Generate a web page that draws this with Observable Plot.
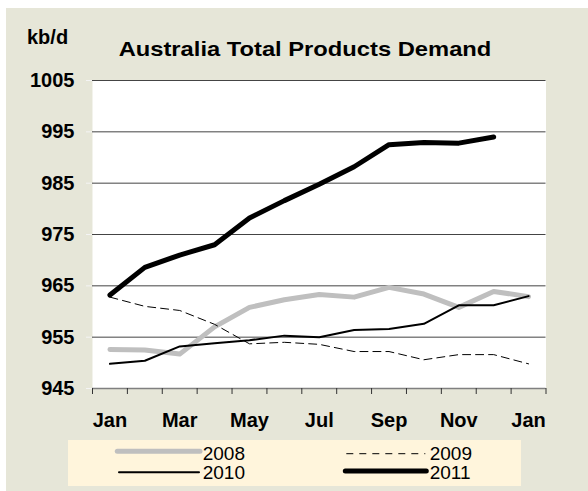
<!DOCTYPE html>
<html><head><meta charset="utf-8">
<script src="https://cdn.jsdelivr.net/npm/d3@7"></script>
<script src="https://cdn.jsdelivr.net/npm/@observablehq/plot@0.6"></script>
<style>
body{margin:0;background:#fff;font-family:"Liberation Sans",Arial,sans-serif;}
#wrap{position:relative;width:588px;height:491px;overflow:hidden;background:#fff;}
#bg{position:absolute;left:6px;top:8px;right:0;bottom:0;background:#E6E6D8;}
#chart{position:absolute;left:0;top:0;}
.t{position:absolute;font-weight:bold;color:#000;white-space:nowrap;line-height:20px;font-size:20px;}
#legend{position:absolute;left:68px;top:440px;width:453px;height:46px;background:#FFF5DC;}
</style></head><body>
<div id="wrap">
  <div id="bg"></div>
  <div id="chart"></div>
  <div class="t" style="left:27px;top:27px;">kb/d</div>
  <div class="t" id="title" style="left:304.6px;top:38px;font-size:21px;line-height:21px;transform:translateX(-50%) scaleX(1.13);transform-origin:50% 50%;">Australia Total Products Demand</div>
  <div id="legend"></div>
</div>
<script>
const months = ["Jan","Feb","Mar","Apr","May","Jun","Jul","Aug","Sep","Oct","Nov","Dec","Jan"];
const xTickLabels = ["Jan","Mar","May","Jul","Sep","Nov","Jan"];
const yTicks = [945,955,965,975,985,995,1005];
const years = ["2008","2009","2010","2011"];
const d2008 = [952.6,952.5,951.7,957.0,960.8,962.3,963.3,962.8,964.7,963.4,960.8,963.9,962.9];
const d2009 = [962.8,961.0,960.2,957.5,953.7,954.0,953.6,952.2,952.2,950.6,951.6,951.6,949.8];
const d2010 = [949.8,950.4,953.2,953.8,954.4,955.3,955.0,956.4,956.6,957.6,961.2,961.2,963.0];
const d2011 = [963.2,968.6,971.0,973.0,978.2,981.6,984.8,988.2,992.5,992.9,992.8,994.0];

const rows = (arr) => arr.map((v, i) => ({i, month: months[i], v}));
const styles = {
  "2008": {stroke:"#BFBFBF", strokeWidth:5, dash:null},
  "2009": {stroke:"#000", strokeWidth:1, dash:"8,5"},
  "2010": {stroke:"#000", strokeWidth:2, dash:null},
  "2011": {stroke:"#000", strokeWidth:5, dash:null}
};
const series = {"2008": d2008, "2009": d2009, "2010": d2010, "2011": d2011};
const bounds = d3.range(0, months.length + 1).map(k => k - 0.5);
const labelPos = xTickLabels.map((_, k) => k * 2);

const lineMarks = years.map(y => Plot.line(rows(series[y]), {
  x: "i", y: "v",
  stroke: styles[y].stroke, strokeWidth: styles[y].strokeWidth,
  strokeDasharray: styles[y].dash, strokeLinejoin: "round", strokeLinecap: "round"
}));

const chart = Plot.plot({
  width: 588, height: 491,
  marginLeft: 92, marginRight: 42.5, marginTop: 80, marginBottom: 103,
  style: {background: "transparent", fontFamily: "'Liberation Sans', Arial, sans-serif", color: "#000", overflow: "visible"},
  x: {domain: [-0.5, months.length - 0.5]},
  y: {domain: [945, 1005]},
  marks: [
    Plot.frame({fill: "white", stroke: null}),
    Plot.gridY(yTicks, {stroke: "#444", strokeOpacity: 1, strokeWidth: 1}),
    Plot.ruleY([945], {stroke: "#808080", strokeWidth: 1.5}),
    Plot.axisY({ticks: yTicks, tickSize: 6, tickFormat: () => "", stroke: "#F4F4F4", label: null}),
    Plot.axisY({ticks: yTicks, tickSize: 0, tickPadding: 18, tickFormat: d => String(d), fontSize: 20, fontWeight: "bold", label: null}),
    Plot.axisX({ticks: bounds, tickSize: 6, tickFormat: () => "", stroke: "#333", label: null}),
    Plot.axisX({ticks: labelPos, tickSize: 0, tickPadding: 24, tickFormat: i => xTickLabels[i / 2], fontSize: 20, fontWeight: "bold", label: null}),
    ...lineMarks
  ]
});
document.getElementById("chart").appendChild(chart);

// legend
const lg = d3.select("#legend").append("svg").attr("width", 453).attr("height", 46)
  .style("position", "absolute").style("left", 0).style("top", 0);
const legendItems = [
  {year: "2008", x1: 49.3, x2: 132, y: 11.3, tx: 134.7, ty: 20},
  {year: "2010", x1: 51, x2: 131, y: 32.3, tx: 134.7, ty: 39},
  {year: "2009", x1: 278.3, x2: 357.3, y: 13.7, tx: 361.7, ty: 20},
  {year: "2011", x1: 277.3, x2: 358.3, y: 31, tx: 361.7, ty: 39}
];
legendItems.forEach(it => {
  const s = styles[it.year];
  lg.append("line").attr("x1", it.x1).attr("x2", it.x2).attr("y1", it.y).attr("y2", it.y)
    .attr("stroke", s.stroke).attr("stroke-width", s.strokeWidth)
    .attr("stroke-linecap", s.dash ? "butt" : "round")
    .attr("stroke-dasharray", s.dash ? "7,6" : null);
  lg.append("text").attr("x", it.tx).attr("y", it.ty).text(it.year)
    .attr("font-size", 19).attr("font-family", "'Liberation Sans', Arial, sans-serif").attr("fill", "#000");
});
</script>
</body></html>
